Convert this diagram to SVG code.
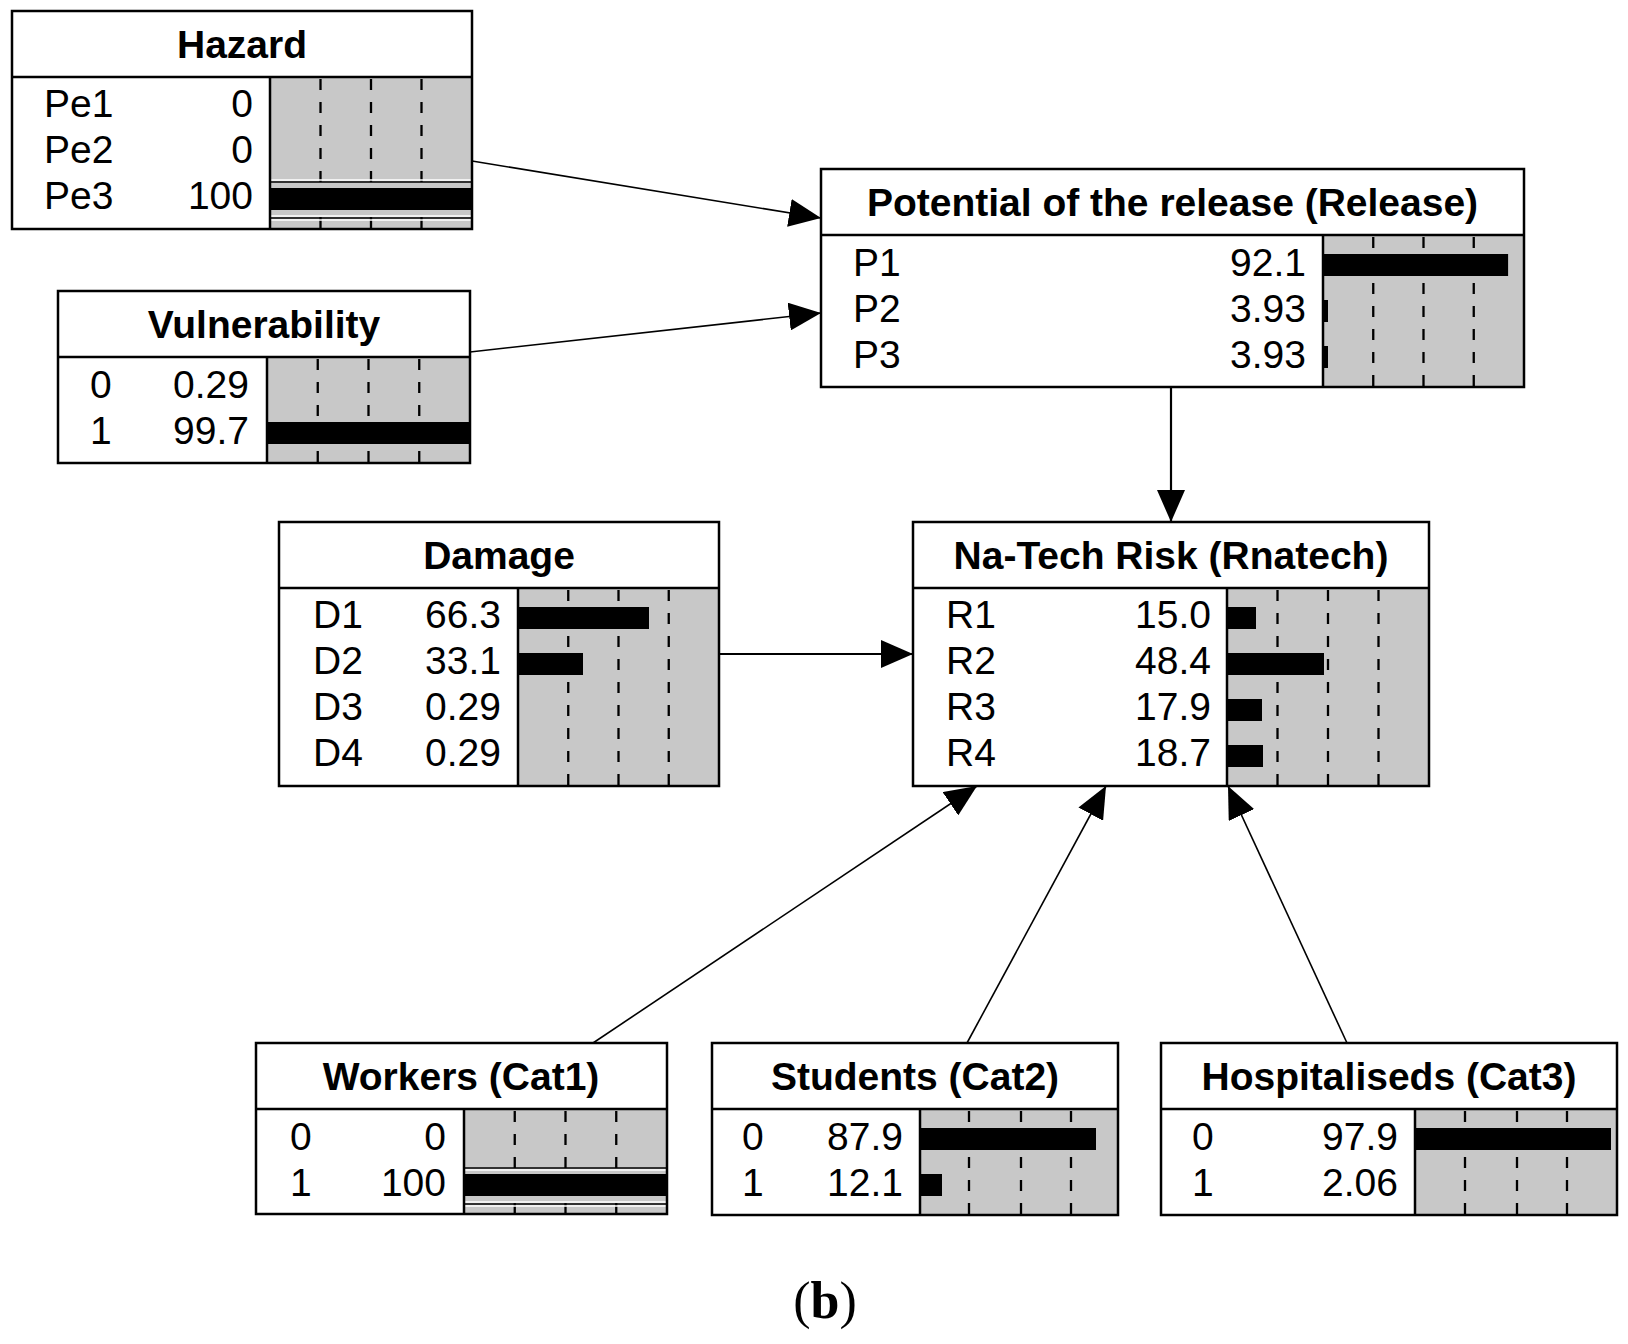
<svg xmlns="http://www.w3.org/2000/svg" width="1628" height="1344" viewBox="0 0 1628 1344">
<style>
.box{fill:#fff;stroke:none}
.frame{fill:none;stroke:#000;stroke-width:2.5}
.sep{stroke:#000;stroke-width:2.5}
.bg{fill:#c8c8c8}
.dash{stroke:#000;stroke-width:2.3;stroke-dasharray:11 12}
.bar{fill:#000}
.wl{stroke:#fff;stroke-width:1.6}
.bl{stroke:#000;stroke-width:1.6}
.title{font-family:"Liberation Sans",Arial,sans-serif;font-weight:bold;font-size:39px;text-anchor:middle;fill:#000}
.lbl{font-family:"Liberation Sans",Arial,sans-serif;font-size:39px;fill:#000}
.val{font-family:"Liberation Sans",Arial,sans-serif;font-size:39px;fill:#000;text-anchor:end}
.conn{fill:none;stroke:#000;stroke-width:1.6}
.conn2{fill:none;stroke:#000;stroke-width:2.2}
.cap{font-family:"Liberation Serif","Times New Roman",serif;font-size:52px;fill:#000;text-anchor:middle}
</style>
<defs>
<marker id="arr" markerUnits="userSpaceOnUse" markerWidth="32" markerHeight="28" refX="32" refY="14" orient="auto">
<path d="M0,0 L32,14 L0,28 Z" fill="#000"/>
</marker>
</defs>
<rect width="1628" height="1344" fill="#fff"/>

<g id="connectors">
<path class="conn" d="M472,161 L821,218" marker-end="url(#arr)"/>
<path class="conn" d="M470,352 L821,313" marker-end="url(#arr)"/>
<path class="conn2" d="M1171,387 L1171,522" marker-end="url(#arr)"/>
<path class="conn2" d="M719,654 L913,654" marker-end="url(#arr)"/>
<path class="conn" d="M593,1043 L977,786" marker-end="url(#arr)"/>
<path class="conn" d="M967,1043 L1106,786" marker-end="url(#arr)"/>
<path class="conn" d="M1347,1043 L1228,786" marker-end="url(#arr)"/>
</g>

<g id="hazard">
<rect class="box" x="12" y="11" width="460" height="218"/>
<rect class="bg" x="270" y="77" width="202" height="152"/>
<line class="dash" x1="320.5" y1="79" x2="320.5" y2="229"/>
<line class="dash" x1="371" y1="79" x2="371" y2="229"/>
<line class="dash" x1="421.5" y1="79" x2="421.5" y2="229"/>
<line class="wl" x1="270" y1="180" x2="472" y2="180"/>
<line class="bl" x1="270" y1="182" x2="472" y2="182"/>
<rect class="bar" x="270" y="188" width="202" height="22"/>
<line class="wl" x1="270" y1="216" x2="472" y2="216"/>
<line class="bl" x1="270" y1="218" x2="472" y2="218"/>
<line class="wl" x1="270" y1="220" x2="472" y2="220"/>
<rect class="frame" x="12" y="11" width="460" height="218"/>
<line class="sep" x1="12" y1="77" x2="472" y2="77"/>
<line class="sep" x1="270" y1="77" x2="270" y2="229"/>
<text class="title" x="242" y="58">Hazard</text>
<text class="lbl" x="44" y="117">Pe1</text><text class="val" x="253" y="117">0</text>
<text class="lbl" x="44" y="163">Pe2</text><text class="val" x="253" y="163">0</text>
<text class="lbl" x="44" y="209">Pe3</text><text class="val" x="253" y="209">100</text>
</g>

<g id="vulnerability">
<rect class="box" x="58" y="291" width="412" height="172"/>
<rect class="bg" x="267" y="357" width="203" height="106"/>
<line class="dash" x1="317.75" y1="359" x2="317.75" y2="463"/>
<line class="dash" x1="368.5" y1="359" x2="368.5" y2="463"/>
<line class="dash" x1="419.25" y1="359" x2="419.25" y2="463"/>
<rect class="bar" x="267" y="422" width="202.4" height="22"/>
<rect class="frame" x="58" y="291" width="412" height="172"/>
<line class="sep" x1="58" y1="357" x2="470" y2="357"/>
<line class="sep" x1="267" y1="357" x2="267" y2="463"/>
<text class="title" x="264" y="338">Vulnerability</text>
<text class="lbl" x="90" y="398">0</text><text class="val" x="249" y="398">0.29</text>
<text class="lbl" x="90" y="444">1</text><text class="val" x="249" y="444">99.7</text>
</g>

<g id="release">
<rect class="box" x="821" y="169" width="703" height="218"/>
<rect class="bg" x="1323" y="235" width="201" height="152"/>
<line class="dash" x1="1373.25" y1="237" x2="1373.25" y2="387"/>
<line class="dash" x1="1423.5" y1="237" x2="1423.5" y2="387"/>
<line class="dash" x1="1473.75" y1="237" x2="1473.75" y2="387"/>
<rect class="bar" x="1323" y="254" width="185.1" height="22"/>
<rect class="bar" x="1323" y="300" width="5" height="22"/>
<rect class="bar" x="1323" y="346" width="5" height="22"/>
<rect class="frame" x="821" y="169" width="703" height="218"/>
<line class="sep" x1="821" y1="235" x2="1524" y2="235"/>
<line class="sep" x1="1323" y1="235" x2="1323" y2="387"/>
<text class="title" x="1172.5" y="216">Potential of the release (Release)</text>
<text class="lbl" x="853" y="276">P1</text><text class="val" x="1306" y="276">92.1</text>
<text class="lbl" x="853" y="322">P2</text><text class="val" x="1306" y="322">3.93</text>
<text class="lbl" x="853" y="368">P3</text><text class="val" x="1306" y="368">3.93</text>
</g>

<g id="damage">
<rect class="box" x="279" y="522" width="440" height="264"/>
<rect class="bg" x="518" y="588" width="201" height="198"/>
<line class="dash" x1="568.25" y1="590" x2="568.25" y2="786"/>
<line class="dash" x1="618.5" y1="590" x2="618.5" y2="786"/>
<line class="dash" x1="668.75" y1="590" x2="668.75" y2="786"/>
<rect class="bar" x="518" y="607" width="131" height="22"/>
<rect class="bar" x="518" y="653" width="65" height="22"/>
<rect class="frame" x="279" y="522" width="440" height="264"/>
<line class="sep" x1="279" y1="588" x2="719" y2="588"/>
<line class="sep" x1="518" y1="588" x2="518" y2="786"/>
<text class="title" x="499" y="569">Damage</text>
<text class="lbl" x="313" y="628">D1</text><text class="val" x="501" y="628">66.3</text>
<text class="lbl" x="313" y="674">D2</text><text class="val" x="501" y="674">33.1</text>
<text class="lbl" x="313" y="720">D3</text><text class="val" x="501" y="720">0.29</text>
<text class="lbl" x="313" y="766">D4</text><text class="val" x="501" y="766">0.29</text>
</g>

<g id="natech">
<rect class="box" x="913" y="522" width="516" height="264"/>
<rect class="bg" x="1227" y="588" width="202" height="198"/>
<line class="dash" x1="1277.5" y1="590" x2="1277.5" y2="786"/>
<line class="dash" x1="1328" y1="590" x2="1328" y2="786"/>
<line class="dash" x1="1378.5" y1="590" x2="1378.5" y2="786"/>
<rect class="bar" x="1227" y="607" width="29" height="22"/>
<rect class="bar" x="1227" y="653" width="97" height="22"/>
<rect class="bar" x="1227" y="699" width="35" height="22"/>
<rect class="bar" x="1227" y="745" width="36" height="22"/>
<rect class="frame" x="913" y="522" width="516" height="264"/>
<line class="sep" x1="913" y1="588" x2="1429" y2="588"/>
<line class="sep" x1="1227" y1="588" x2="1227" y2="786"/>
<text class="title" x="1171" y="569">Na-Tech Risk (Rnatech)</text>
<text class="lbl" x="946" y="628">R1</text><text class="val" x="1211" y="628">15.0</text>
<text class="lbl" x="946" y="674">R2</text><text class="val" x="1211" y="674">48.4</text>
<text class="lbl" x="946" y="720">R3</text><text class="val" x="1211" y="720">17.9</text>
<text class="lbl" x="946" y="766">R4</text><text class="val" x="1211" y="766">18.7</text>
</g>

<g id="workers">
<rect class="box" x="256" y="1043" width="411" height="171"/>
<rect class="bg" x="464" y="1109" width="203" height="105"/>
<line class="dash" x1="514.75" y1="1111" x2="514.75" y2="1214"/>
<line class="dash" x1="565.5" y1="1111" x2="565.5" y2="1214"/>
<line class="dash" x1="616.25" y1="1111" x2="616.25" y2="1214"/>
<line class="bl" x1="464" y1="1168" x2="667" y2="1168"/>
<line class="wl" x1="464" y1="1170" x2="667" y2="1170"/>
<rect class="bar" x="464" y="1174" width="203" height="22"/>
<line class="wl" x1="464" y1="1202" x2="667" y2="1202"/>
<line class="bl" x1="464" y1="1204" x2="667" y2="1204"/>
<line class="wl" x1="464" y1="1206" x2="667" y2="1206"/>
<rect class="frame" x="256" y="1043" width="411" height="171"/>
<line class="sep" x1="256" y1="1109" x2="667" y2="1109"/>
<line class="sep" x1="464" y1="1109" x2="464" y2="1214"/>
<text class="title" x="461" y="1090">Workers (Cat1)</text>
<text class="lbl" x="290" y="1150">0</text><text class="val" x="446" y="1150">0</text>
<text class="lbl" x="290" y="1196">1</text><text class="val" x="446" y="1196">100</text>
</g>

<g id="students">
<rect class="box" x="712" y="1043" width="406" height="172"/>
<rect class="bg" x="920" y="1109" width="198" height="106"/>
<line class="dash" x1="969" y1="1111" x2="969" y2="1215"/>
<line class="dash" x1="1021" y1="1111" x2="1021" y2="1215"/>
<line class="dash" x1="1071" y1="1111" x2="1071" y2="1215"/>
<rect class="bar" x="920" y="1128" width="176" height="22"/>
<rect class="bar" x="920" y="1174" width="22" height="22"/>
<rect class="frame" x="712" y="1043" width="406" height="172"/>
<line class="sep" x1="712" y1="1109" x2="1118" y2="1109"/>
<line class="sep" x1="920" y1="1109" x2="920" y2="1215"/>
<text class="title" x="915" y="1090">Students (Cat2)</text>
<text class="lbl" x="742" y="1150">0</text><text class="val" x="903" y="1150">87.9</text>
<text class="lbl" x="742" y="1196">1</text><text class="val" x="903" y="1196">12.1</text>
</g>

<g id="hospitaliseds">
<rect class="box" x="1161" y="1043" width="456" height="172"/>
<rect class="bg" x="1415" y="1109" width="202" height="106"/>
<line class="dash" x1="1465" y1="1111" x2="1465" y2="1215"/>
<line class="dash" x1="1517" y1="1111" x2="1517" y2="1215"/>
<line class="dash" x1="1567" y1="1111" x2="1567" y2="1215"/>
<rect class="bar" x="1415" y="1128" width="196" height="22"/>
<rect class="frame" x="1161" y="1043" width="456" height="172"/>
<line class="sep" x1="1161" y1="1109" x2="1617" y2="1109"/>
<line class="sep" x1="1415" y1="1109" x2="1415" y2="1215"/>
<text class="title" x="1389" y="1090">Hospitaliseds (Cat3)</text>
<text class="lbl" x="1192" y="1150">0</text><text class="val" x="1398" y="1150">97.9</text>
<text class="lbl" x="1192" y="1196">1</text><text class="val" x="1398" y="1196">2.06</text>
</g>

<text class="cap" x="825" y="1318">(<tspan font-weight="bold">b</tspan>)</text>
</svg>
